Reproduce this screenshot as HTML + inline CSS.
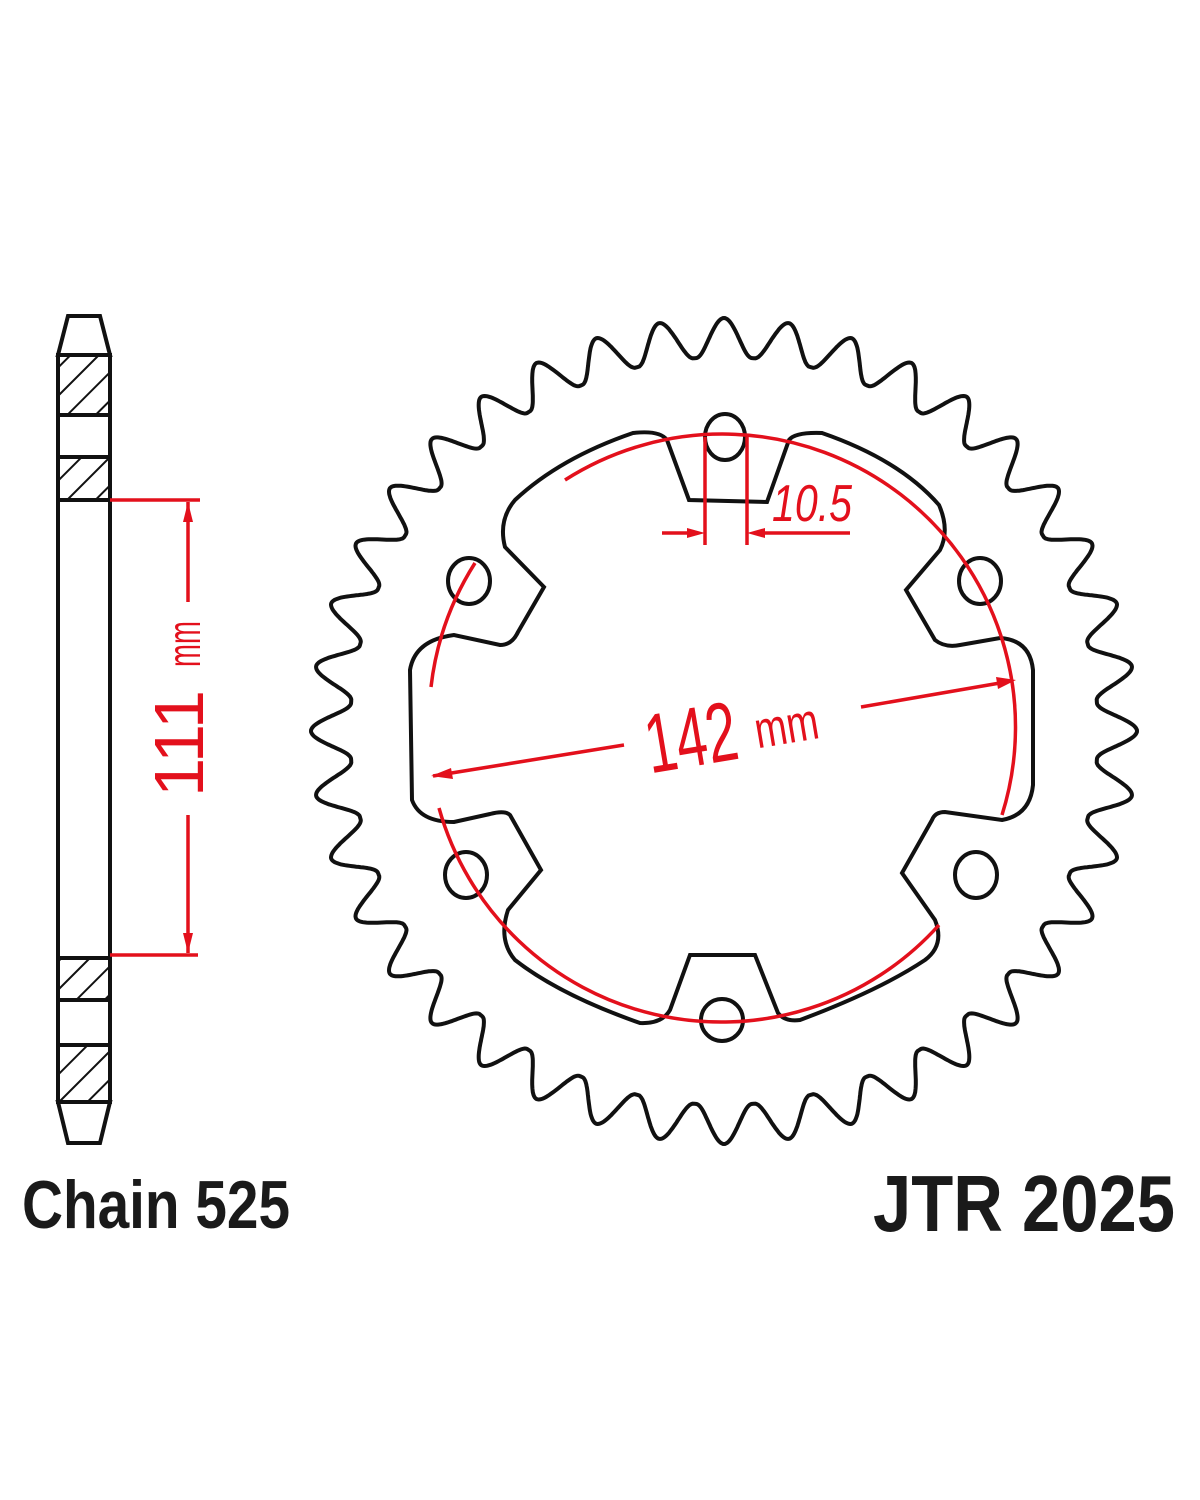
<!DOCTYPE html>
<html><head><meta charset="utf-8"><style>
html,body{margin:0;padding:0;background:#fff;}
svg{display:block;}
</style></head><body>
<svg id="s" width="1200" height="1500" viewBox="0 0 1200 1500" xmlns="http://www.w3.org/2000/svg">
<defs>
<pattern id="h" patternUnits="userSpaceOnUse" width="20" height="20" patternTransform="rotate(45)">
<line x1="0" y1="0" x2="0" y2="20" stroke="#111" stroke-width="4"/>
</pattern>
</defs>
<rect width="1200" height="1500" fill="#fff"/>
<!-- side view -->
<g stroke="#111" stroke-width="4" fill="none">
<rect x="58" y="355" width="52" height="60" fill="url(#h)"/>
<rect x="58" y="457" width="52" height="43" fill="url(#h)"/>
<rect x="58" y="958" width="52" height="42" fill="url(#h)"/>
<rect x="58" y="1045" width="52" height="57" fill="url(#h)"/>
<polygon points="58,355 68,316 100,316 110,355"/>
<polygon points="58,1102 68,1143 100,1143 110,1102"/>
<line x1="58" y1="355" x2="58" y2="1102"/>
<line x1="110" y1="355" x2="110" y2="1102"/>
</g>
<g stroke="#e3101c" stroke-width="3.5" fill="#e3101c">
<line x1="110" y1="500" x2="200" y2="500"/>
<line x1="110" y1="955" x2="198" y2="955"/>
<line x1="188" y1="502" x2="188" y2="602"/>
<line x1="188" y1="815" x2="188" y2="953"/>
<polygon points="188,502 183,522 193,522" stroke="none"/>
<polygon points="188,953 183,933 193,933" stroke="none"/>
</g>
<g fill="#e3101c" font-family="'Liberation Sans Narrow','Liberation Sans',sans-serif">
<text transform="translate(203,797) rotate(-90)" font-size="70" textLength="107" lengthAdjust="spacingAndGlyphs">111</text>
<text transform="translate(200,667) rotate(-90)" font-size="46" textLength="46" lengthAdjust="spacingAndGlyphs">mm</text>
</g>
<!-- sprocket -->
<path id="teeth" fill="none" stroke="#111" stroke-width="4"/>
<g fill="none" stroke="#111" stroke-width="4">
<path d="M 667,440 L 689,500 L 767,502 L 789,440 Q 795,432 822,433 Q 900,460 939,505 Q 950,530 940,550 L 906,590 L 935,640 Q 945,648 960,645 L 1000,638 Q 1030,640 1033,670 L 1033,785 Q 1030,815 1002,820 L 945,812 Q 935,812 932,820 L 902,873 L 935,920 Q 945,945 925,960 Q 880,990 800,1020 Q 785,1022 778,1013 L 755,955 L 690,955 L 670,1010 Q 662,1024 640,1023 Q 560,995 515,960 Q 498,940 508,910 L 541,870 L 510,815 Q 505,810 490,814 L 454,822 Q 420,822 412,800 L 410,670 Q 415,640 454,635 L 500,645 Q 512,645 518,632 L 544,587 L 505,547 Q 498,520 515,500 Q 560,458 633,433 Q 660,430 667,440 Z"/>
<ellipse cx="725" cy="437" rx="20" ry="23"/>
<ellipse cx="469" cy="581" rx="21" ry="23"/>
<ellipse cx="980" cy="581" rx="21" ry="23"/>
<ellipse cx="466" cy="875" rx="21" ry="23"/>
<ellipse cx="976" cy="875" rx="21" ry="23"/>
<ellipse cx="722" cy="1020" rx="21" ry="21"/>
</g>
<!-- red circle arcs -->
<g fill="none" stroke="#e3101c" stroke-width="3.5">
<path d="M 565,480 A 293 293 0 0 1 1002,815"/>
<path d="M 475,563 A 293 293 0 0 0 431,687"/>
<path d="M 439,808 A 293 293 0 0 0 939,925"/>
<line x1="705" y1="437" x2="705" y2="545"/>
<line x1="747" y1="437" x2="747" y2="545"/>
<line x1="662" y1="533" x2="690" y2="533"/>
<line x1="762" y1="533" x2="850" y2="533"/>
<line x1="433" y1="776" x2="624" y2="745"/>
<line x1="861" y1="707" x2="1000" y2="683"/>
</g>
<g fill="#e3101c">
<polygon points="705,533 687,528 687,538"/>
<polygon points="747,533 765,528 765,538"/>
<polygon points="431,776 451,768 453,779"/>
<polygon points="1016,680 996,677 998,689"/>
</g>
<g fill="#e3101c" font-family="'Liberation Sans Narrow','Liberation Sans',sans-serif">
<text x="772" y="521" font-size="52" font-style="italic" textLength="80" lengthAdjust="spacingAndGlyphs">10.5</text>
<g transform="rotate(-9.5 700 755)">
<text x="648" y="765" font-size="84" textLength="92" lengthAdjust="spacingAndGlyphs">142</text>
<text x="758" y="758" font-size="52" textLength="64" lengthAdjust="spacingAndGlyphs">mm</text>
</g>
</g>
<g fill="#1a1a1a" font-family="'Liberation Sans',sans-serif" font-weight="bold">
<text x="22" y="1228" font-size="68" textLength="268" lengthAdjust="spacingAndGlyphs">Chain 525</text>
<text x="873" y="1231" font-size="80" textLength="302" lengthAdjust="spacingAndGlyphs">JTR 2025</text>
</g>
</svg>
<script>
(function(){
var cx=724,cy=731,Rt=413,Rr=374,N=40,d="";
var steps=N*60;
function ss(a,b,x){var t=Math.min(1,Math.max(0,(x-a)/(b-a)));return t*t*(3-2*t);}
for(var i=0;i<=steps;i++){
 var th=-Math.PI/2+2*Math.PI*i/steps;
 var ph=((i%60)/60);
 var u=ph<=0.5?ph*2:(1-ph)*2;
 var g=1-ss(0.0,0.95,u);
 var r=Rr+(Rt-Rr)*g;
 var x=cx+r*Math.cos(th),y=cy+r*Math.sin(th);
 d+=(i?"L":"M")+x.toFixed(1)+","+y.toFixed(1);
}
d+="Z";
document.getElementById("teeth").setAttribute("d",d);
})();
</script>
</body></html>
